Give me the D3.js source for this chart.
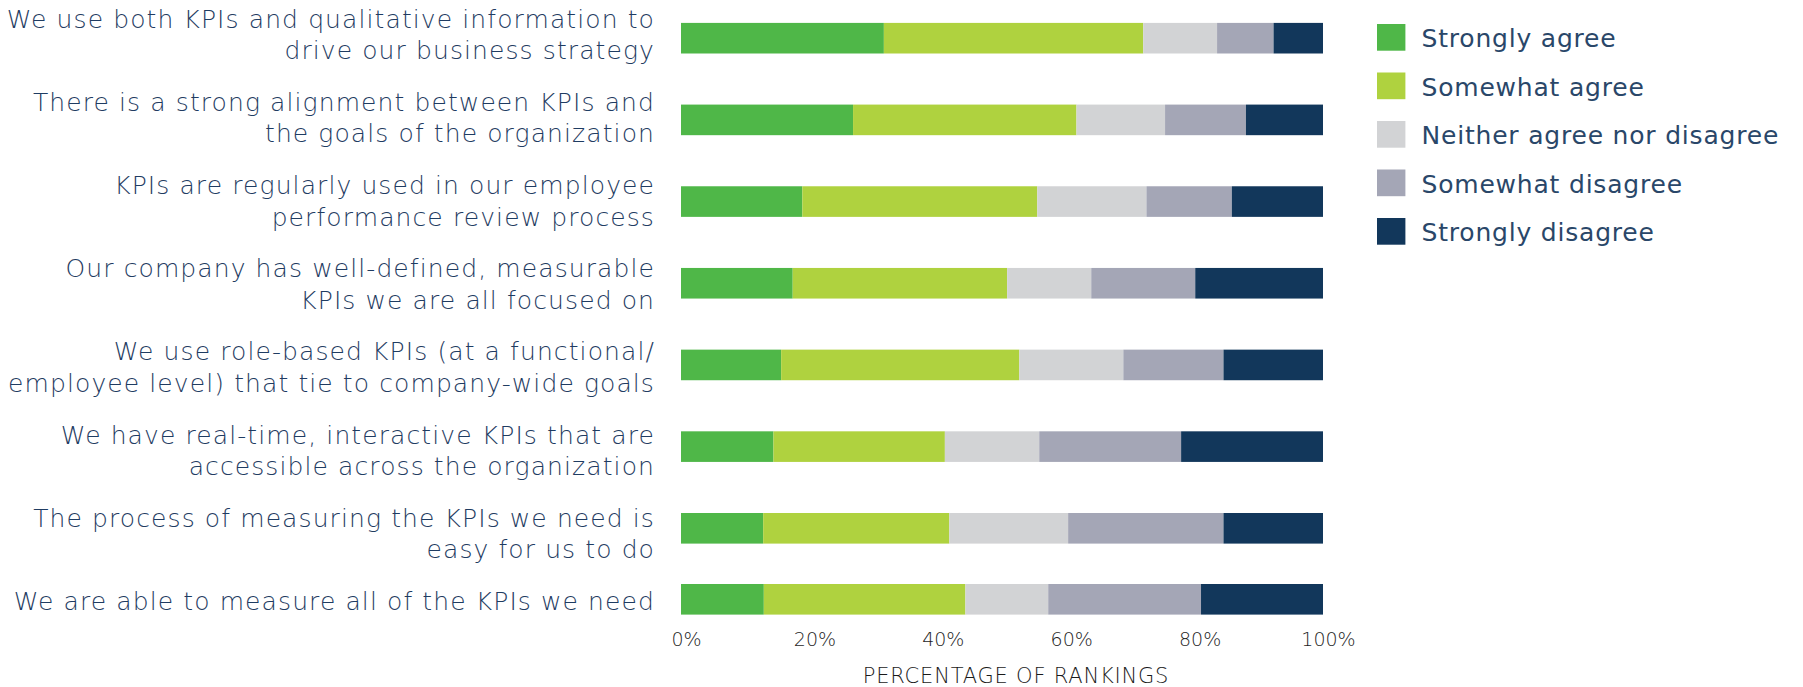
<!DOCTYPE html>
<html>
<head>
<meta charset="utf-8">
<script src="https://cdn.jsdelivr.net/npm/d3@7"></script>
<style>
  html, body { margin: 0; padding: 0; background: #ffffff; }
  svg { display: block; }
</style>
</head>
<body>
<svg id="chart" width="1803" height="687"></svg>
<script>
// Survey statements (line breaks mark where each label wraps)
const categories = [
  "We use both KPIs and qualitative information to\ndrive our business strategy",
  "There is a strong alignment between KPIs and\nthe goals of the organization",
  "KPIs are regularly used in our employee\nperformance review process",
  "Our company has well-defined, measurable\nKPIs we are all focused on",
  "We use role-based KPIs (at a functional/\nemployee level) that tie to company-wide goals",
  "We have real-time, interactive KPIs that are\naccessible across the organization",
  "The process of measuring the KPIs we need is\neasy for us to do",
  "We are able to measure all of the KPIs we need"
];

const seriesNames = [
  "Strongly agree",
  "Somewhat agree",
  "Neither agree nor disagree",
  "Somewhat disagree",
  "Strongly disagree"
];

// Share of responses (%) per statement
const stronglyAgree    = [31.6, 26.8, 18.9, 17.4, 15.6, 14.4, 12.8, 12.9];
const somewhatAgree    = [40.4, 34.8, 36.6, 33.4, 37.1, 26.7, 29.0, 31.4];
const neitherAgree     = [11.5, 13.8, 17.0, 13.1, 16.2, 14.7, 18.5, 12.9];
const somewhatDisagree = [ 8.8, 12.6, 13.3, 16.2, 15.6, 22.1, 24.2, 23.8];
const stronglyDisagree = [ 7.7, 12.0, 14.2, 19.9, 15.5, 22.1, 15.5, 19.0];

const tickValues = [0, 20, 40, 60, 80, 100];
const axisTitle = "PERCENTAGE OF RANKINGS";

const colors = ["#4fb748", "#afd23f", "#d2d3d5", "#a4a6b6", "#12375b"];

const seriesValues = [stronglyAgree, somewhatAgree, neitherAgree, somewhatDisagree, stronglyDisagree];
const rows = categories.map((c, i) => {
  const r = { index: i, label: c };
  seriesNames.forEach((s, k) => { r[s] = seriesValues[k][i]; });
  return r;
});

const svg = d3.select("#chart");
const FONT = "'DejaVu Sans', 'Open Sans', sans-serif";
const TEXT = "#1f3c62";

// Scales
const x = d3.scaleLinear().domain([0, 100]).range([681, 1323]);
// row index -> bar centre (last row sits a little closer to the one above)
const yBar = d3.scaleLinear().domain([0, 6, 7]).range([38.2, 528.3, 599.3]);
// row index -> baseline of the first label line
const yLabel = d3.scaleLinear().domain([0, 7]).range([27.7, 610]);
const barH = 30.6;
const lineGap = 31.6;
const color = d3.scaleOrdinal().domain(seriesNames).range(colors);

const stacked = d3.stack().keys(seriesNames)(rows);

// Bars
svg.append("g")
  .selectAll("g")
  .data(stacked)
  .join("g")
    .attr("fill", d => color(d.key))
  .selectAll("rect")
  .data(d => d)
  .join("rect")
    .attr("x", d => x(d[0]))
    .attr("width", d => x(d[1]) - x(d[0]))
    .attr("y", d => yBar(d.data.index) - barH / 2)
    .attr("height", barH);

// Category labels, right-aligned against the bars
const labels = svg.append("g")
  .attr("font-family", FONT)
  .attr("font-weight", 300)
  .attr("font-size", 25)
  .attr("letter-spacing", 1.1)
  .attr("fill", TEXT)
  .attr("text-anchor", "end");

rows.forEach(r => {
  const t = labels.append("text")
    .attr("x", 655)
    .attr("y", yLabel(r.index));
  r.label.split("\n").forEach((line, j) => {
    t.append("tspan")
      .attr("x", 655)
      .attr("y", yLabel(r.index) + j * lineGap)
      .text(line);
  });
});

// X axis
const xAxis = d3.axisBottom(x)
  .tickValues(tickValues)
  .tickFormat(d => d + "%")
  .tickSize(0)
  .tickPadding(0);

const axisG = svg.append("g")
  .attr("transform", "translate(0,626)")
  .call(xAxis);
axisG.select(".domain").remove();
axisG.selectAll("text")
  .attr("font-family", FONT)
  .attr("font-weight", 300)
  .attr("font-size", 19)
  .attr("fill", "#1e1e1e")
  .attr("dy", null)
  .attr("y", 19.7)
  .attr("dx", 5);

svg.append("text")
  .attr("x", 1016)
  .attr("y", 683)
  .attr("text-anchor", "middle")
  .attr("font-family", FONT)
  .attr("font-weight", 300)
  .attr("font-size", 21)
  .attr("letter-spacing", 0.8)
  .attr("fill", "#1a1a1a")
  .text(axisTitle);

// Legend
const legend = svg.append("g").attr("transform", "translate(1377,24)");
const item = legend.selectAll("g")
  .data(seriesNames)
  .join("g")
    .attr("transform", (d, i) => `translate(0,${i * 48.5})`);
item.append("rect")
  .attr("width", 28.4)
  .attr("height", 26.7)
  .attr("fill", d => color(d));
item.append("text")
  .attr("x", 44.5)
  .attr("y", 23.3)
  .attr("font-family", FONT)
  .attr("font-size", 25)
  .attr("letter-spacing", 0.8)
  .attr("fill", "#2a4769")
  .text(d => d);
</script>
</body>
</html>
